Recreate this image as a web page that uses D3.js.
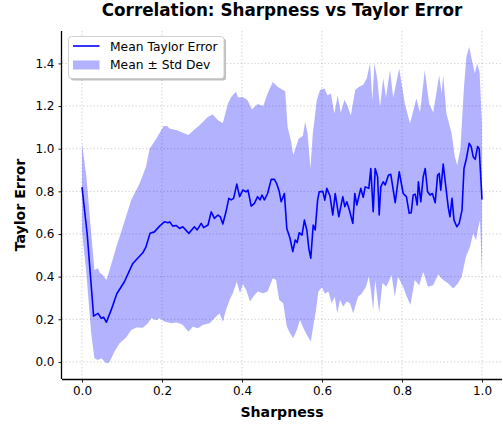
<!DOCTYPE html>
<html>
<head>
<meta charset="utf-8">
<script src="https://cdn.jsdelivr.net/npm/d3@7"></script>
<style>
  body { margin: 0; background: #fff; }
  svg { font-family: "DejaVu Sans", sans-serif; }
</style>
</head>
<body>
<svg width="503" height="425"></svg>
<script>
// mean taylor error
var meanSharpness = [0.000, 0.013, 0.029, 0.040, 0.048, 0.054, 0.061, 0.073, 0.087, 0.106, 0.127, 0.152, 0.160, 0.170, 0.181, 0.194, 0.206, 0.215, 0.219, 0.227, 0.235, 0.244, 0.252, 0.267, 0.281, 0.288, 0.298, 0.304, 0.315, 0.323, 0.331, 0.340, 0.346, 0.352, 0.360, 0.367, 0.373, 0.379, 0.387, 0.394, 0.402, 0.410, 0.415, 0.423, 0.431, 0.439, 0.445, 0.450, 0.456, 0.464, 0.473, 0.481, 0.487, 0.493, 0.498, 0.506, 0.512, 0.520, 0.527, 0.533, 0.538, 0.543, 0.550, 0.556, 0.562, 0.567, 0.572, 0.578, 0.583, 0.589, 0.593, 0.602, 0.607, 0.612, 0.620, 0.627, 0.633, 0.642, 0.652, 0.657, 0.662, 0.668, 0.677, 0.682, 0.687, 0.697, 0.703, 0.708, 0.717, 0.722, 0.728, 0.733, 0.739, 0.743, 0.747, 0.753, 0.758, 0.766, 0.772, 0.783, 0.793, 0.803, 0.811, 0.818, 0.823, 0.828, 0.833, 0.838, 0.841, 0.847, 0.853, 0.858, 0.864, 0.870, 0.876, 0.883, 0.889, 0.893, 0.897, 0.903, 0.910, 0.916, 0.920, 0.925, 0.930, 0.937, 0.943, 0.950, 0.955, 0.961, 0.968, 0.973, 0.978, 0.983, 0.989, 0.993, 1.000]
var meanTaylorError = [0.82, 0.60, 0.215, 0.228, 0.205, 0.21, 0.186, 0.244, 0.32, 0.376, 0.462, 0.512, 0.54, 0.603, 0.61, 0.637, 0.657, 0.653, 0.657, 0.637, 0.64, 0.626, 0.634, 0.603, 0.634, 0.619, 0.65, 0.63, 0.642, 0.704, 0.673, 0.689, 0.68, 0.647, 0.704, 0.767, 0.76, 0.767, 0.834, 0.775, 0.806, 0.798, 0.806, 0.731, 0.744, 0.775, 0.76, 0.783, 0.76, 0.79, 0.856, 0.856, 0.835, 0.80, 0.751, 0.79, 0.626, 0.58, 0.517, 0.572, 0.56, 0.606, 0.595, 0.665, 0.619, 0.533, 0.486, 0.642, 0.619, 0.759, 0.798, 0.80, 0.759, 0.814, 0.778, 0.689, 0.79, 0.681, 0.775, 0.728, 0.751, 0.716, 0.65, 0.79, 0.736, 0.814, 0.772, 0.821, 0.814, 0.907, 0.704, 0.907, 0.868, 0.689, 0.821, 0.845, 0.83, 0.876, 0.88, 0.747, 0.892, 0.79, 0.775, 0.697, 0.70, 0.783, 0.787, 0.736, 0.845, 0.751, 0.868, 0.907, 0.798, 0.783, 0.79, 0.747, 0.876, 0.884, 0.806, 0.928, 0.814, 0.72, 0.681, 0.767, 0.665, 0.634, 0.65, 0.712, 0.907, 0.954, 1.025, 1.01, 0.962, 0.95, 1.01, 1.0, 0.762]

// mean + std edge
var upperSharpness = [0.000, 0.011, 0.023, 0.031, 0.040, 0.044, 0.052, 0.061, 0.069, 0.086, 0.102, 0.123, 0.144, 0.160, 0.169, 0.186, 0.204, 0.212, 0.219, 0.237, 0.266, 0.281, 0.294, 0.315, 0.327, 0.340, 0.352, 0.365, 0.373, 0.385, 0.390, 0.402, 0.414, 0.425, 0.439, 0.453, 0.464, 0.477, 0.489, 0.502, 0.508, 0.514, 0.523, 0.528, 0.533, 0.542, 0.552, 0.558, 0.564, 0.571, 0.577, 0.587, 0.595, 0.606, 0.614, 0.622, 0.631, 0.639, 0.647, 0.656, 0.664, 0.672, 0.683, 0.693, 0.703, 0.712, 0.720, 0.726, 0.731, 0.738, 0.745, 0.753, 0.760, 0.770, 0.778, 0.793, 0.807, 0.820, 0.836, 0.845, 0.857, 0.868, 0.878, 0.893, 0.899, 0.903, 0.911, 0.924, 0.932, 0.938, 0.946, 0.955, 0.961, 0.968, 0.973, 0.982, 0.988, 0.994, 1.000]
var upperBound = [1.025, 0.868, 0.603, 0.431, 0.439, 0.42, 0.408, 0.384, 0.431, 0.54, 0.634, 0.759, 0.837, 0.915, 1.0, 1.048, 1.106, 1.106, 1.095, 1.087, 1.064, 1.09, 1.11, 1.15, 1.16, 1.134, 1.12, 1.212, 1.243, 1.267, 1.24, 1.243, 1.227, 1.184, 1.21, 1.2, 1.259, 1.313, 1.29, 1.275, 1.27, 1.103, 1.032, 0.97, 1.0, 1.048, 1.06, 1.126, 1.07, 0.907, 1.07, 1.228, 1.275, 1.282, 1.25, 1.26, 1.165, 1.25, 1.17, 1.23, 1.2, 1.157, 1.275, 1.29, 1.30, 1.33, 1.40, 1.228, 1.40, 1.329, 1.196, 1.33, 1.24, 1.368, 1.24, 1.376, 1.212, 1.118, 1.235, 1.17, 1.368, 1.21, 1.17, 1.345, 1.26, 1.345, 1.165, 1.072, 0.962, 0.923, 1.0, 1.29, 1.431, 1.478, 1.431, 1.353, 1.40, 1.36, 1.11]

// mean - std edge
var lowerSharpness = [0.000, 0.011, 0.023, 0.031, 0.040, 0.048, 0.061, 0.069, 0.081, 0.094, 0.111, 0.123, 0.136, 0.152, 0.165, 0.173, 0.186, 0.194, 0.206, 0.223, 0.235, 0.245, 0.252, 0.266, 0.277, 0.290, 0.302, 0.319, 0.331, 0.344, 0.352, 0.360, 0.369, 0.377, 0.387, 0.395, 0.402, 0.410, 0.420, 0.428, 0.439, 0.452, 0.464, 0.477, 0.485, 0.493, 0.503, 0.512, 0.520, 0.528, 0.537, 0.545, 0.553, 0.562, 0.572, 0.578, 0.585, 0.591, 0.600, 0.607, 0.616, 0.624, 0.632, 0.638, 0.645, 0.653, 0.662, 0.670, 0.678, 0.690, 0.699, 0.710, 0.717, 0.722, 0.728, 0.733, 0.743, 0.751, 0.761, 0.774, 0.782, 0.790, 0.803, 0.811, 0.821, 0.832, 0.843, 0.853, 0.865, 0.878, 0.890, 0.903, 0.915, 0.928, 0.940, 0.949, 0.960, 0.970, 0.978, 0.985, 0.990, 0.995, 1.000]
var lowerBound = [0.615, 0.415, 0.134, 0.017, 0.009, 0.017, -0.006, 0.0, 0.048, 0.088, 0.116, 0.15, 0.161, 0.16, 0.181, 0.205, 0.195, 0.205, 0.19, 0.181, 0.185, 0.18, 0.173, 0.142, 0.165, 0.158, 0.173, 0.181, 0.205, 0.228, 0.189, 0.244, 0.29, 0.322, 0.376, 0.322, 0.365, 0.34, 0.283, 0.306, 0.33, 0.322, 0.33, 0.392, 0.384, 0.29, 0.275, 0.166, 0.134, 0.111, 0.15, 0.197, 0.16, 0.127, 0.095, 0.166, 0.244, 0.33, 0.35, 0.32, 0.33, 0.275, 0.306, 0.228, 0.29, 0.26, 0.283, 0.275, 0.228, 0.306, 0.32, 0.353, 0.40, 0.338, 0.244, 0.384, 0.231, 0.37, 0.353, 0.408, 0.306, 0.40, 0.353, 0.31, 0.267, 0.384, 0.36, 0.423, 0.353, 0.36, 0.41, 0.384, 0.369, 0.345, 0.369, 0.40, 0.494, 0.54, 0.603, 0.57, 0.626, 0.665, 0.415]

var xTicks = [0.0, 0.2, 0.4, 0.6, 0.8, 1.0]
var yTicks = [0.0, 0.2, 0.4, 0.6, 0.8, 1.0, 1.2, 1.4]

var svg = d3.select('svg')
var plotLeft = 62, plotRight = 502, plotTop = 31, plotBottom = 379

var mapX = d3.scaleLinear().domain([-0.05, 1.05]).range([plotLeft, plotRight])
var mapY = d3.scaleLinear().domain([-0.08, 1.552]).range([plotBottom, plotTop])

// grid
svg.append('g')
    .selectAll('line')
    .data(xTicks)
    .enter()
    .append('line')
    .attr('x1', function(d){ return mapX(d) })
    .attr('x2', function(d){ return mapX(d) })
    .attr('y1', plotTop)
    .attr('y2', plotBottom)
    .attr('stroke', '#b0b0b0')
    .attr('stroke-width', 0.8)
    .attr('stroke-dasharray', '1.3,2.2')
    .style('opacity', 0.75)

svg.append('g')
    .selectAll('line')
    .data(yTicks)
    .enter()
    .append('line')
    .attr('x1', plotLeft)
    .attr('x2', plotRight)
    .attr('y1', function(d){ return mapY(d) })
    .attr('y2', function(d){ return mapY(d) })
    .attr('stroke', '#b0b0b0')
    .attr('stroke-width', 0.8)
    .attr('stroke-dasharray', '1.3,2.2')
    .style('opacity', 0.75)

// std band: upper edge forward, lower edge back
var upperPts = d3.zip(upperSharpness, upperBound)
var lowerPts = d3.zip(lowerSharpness, lowerBound).reverse()
var edge = d3.line()
    .x(function(d){ return mapX(d[0]) })
    .y(function(d){ return mapY(d[1]) })

svg.append('path')
    .attr('d', edge(upperPts.concat(lowerPts)) + 'Z')
    .attr('fill', '#0000ff')
    .style('opacity', 0.3)

svg.append('path')
    .attr('d', edge(d3.zip(meanSharpness, meanTaylorError)))
    .attr('fill', 'none')
    .attr('stroke', '#0000ff')
    .attr('stroke-width', 1.6)
    .attr('stroke-linejoin', 'round')

// axes
var axisX = svg.append('g')
    .attr('transform', `translate(0, ${plotBottom})`)
    .call(d3.axisBottom(mapX).tickValues(xTicks).tickFormat(d3.format('.1f')).tickSizeOuter(0).tickSize(3.5).tickPadding(4))

var axisY = svg.append('g')
    .attr('transform', `translate(${plotLeft}, 0)`)
    .call(d3.axisLeft(mapY).tickValues(yTicks).tickFormat(d3.format('.1f')).tickSizeOuter(0).tickSize(3.5).tickPadding(4))

svg.selectAll('.tick text')
    .attr('font-size', 12)
    .attr('font-family', 'DejaVu Sans')
    .attr('fill', '#000')
svg.selectAll('.tick line').attr('stroke-width', 0.9)
axisX.select('.domain').attr('d', `M${plotLeft},0.5H${plotRight}`).attr('stroke-width', 1.3)
axisY.select('.domain').attr('d', `M-0.5,${plotTop}V${plotBottom}`).attr('stroke-width', 1.3)

// labels
svg.append('text')
    .text('Correlation: Sharpness vs Taylor Error')
    .attr('x', (plotLeft + plotRight) / 2)
    .attr('y', 15.5)
    .attr('text-anchor', 'middle')
    .attr('font-weight', 'bold')
    .attr('font-size', 16.8)

svg.append('text')
    .text('Sharpness')
    .attr('x', (plotLeft + plotRight) / 2)
    .attr('y', 417)
    .attr('text-anchor', 'middle')
    .attr('font-weight', 'bold')
    .attr('font-size', 14.1)

svg.append('text')
    .text('Taylor Error')
    .attr('transform', `translate(25, ${(plotTop + plotBottom) / 2}) rotate(-90)`)
    .attr('text-anchor', 'middle')
    .attr('font-weight', 'bold')
    .attr('font-size', 14.1)

// legend
var legend = svg.append('g').attr('transform', 'translate(68.5, 36.5)')
legend.append('rect')
    .attr('x', 2).attr('y', 2)
    .attr('width', 155.5).attr('height', 42)
    .attr('rx', 3)
    .attr('fill', '#000')
    .style('opacity', 0.25)
legend.append('rect')
    .attr('width', 155.5).attr('height', 42)
    .attr('rx', 3)
    .attr('fill', '#fff')
    .attr('stroke', '#cccccc')
    .attr('stroke-width', 0.9)
legend.append('line')
    .attr('x1', 4.5).attr('x2', 31)
    .attr('y1', 9.5).attr('y2', 9.5)
    .attr('stroke', '#0000ff')
    .attr('stroke-width', 1.6)
legend.append('rect')
    .attr('x', 4.5).attr('y', 24)
    .attr('width', 26.5).attr('height', 9)
    .attr('fill', '#0000ff')
    .style('opacity', 0.3)
legend.append('text')
    .text('Mean Taylor Error')
    .attr('x', 41.5).attr('y', 14)
    .attr('font-size', 12.3)
legend.append('text')
    .text('Mean ± Std Dev')
    .attr('x', 41.5).attr('y', 32.5)
    .attr('font-size', 12.3)
</script>
</body>
</html>
